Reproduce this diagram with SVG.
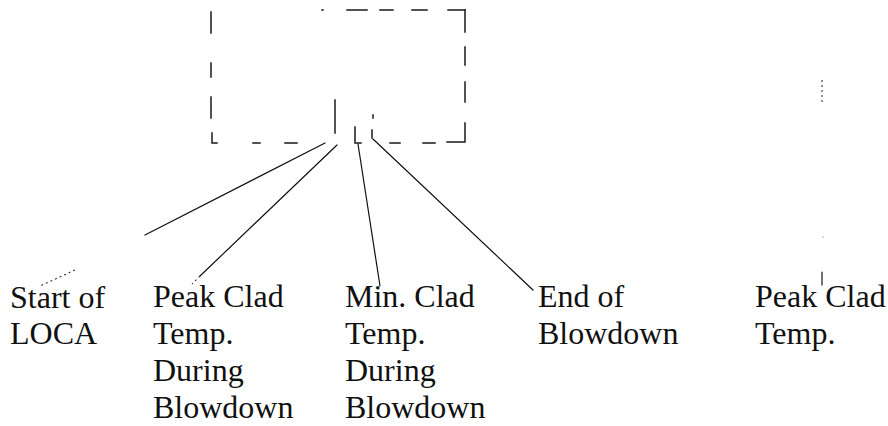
<svg xmlns="http://www.w3.org/2000/svg" width="888" height="426" viewBox="0 0 888 426">
  <style>
    .lbl { font-family: "Liberation Serif", "Times New Roman", serif; font-size: 32px; fill: #111; }
    .box { stroke: #1a1a1a; stroke-width: 1.5; fill: none; stroke-linecap: square; }
    .lead { stroke: #111; stroke-width: 1.2; fill: none; stroke-linecap: round; }
    .faint { stroke: #333; stroke-width: 1.1; fill: none; stroke-dasharray: 2 3; }
  </style>

  <rect width="888" height="426" fill="#ffffff"/>

  <!-- broken-line frame of the blowdown window -->
  <g id="frame">
    <!-- left side -->
    <path class="box" d="M211,12 V33 M211,63 V77 M211,97 V118 M212,133 V143 H217"/>
    <!-- bottom left dashes -->
    <path class="box" d="M253,143 H260 M285,143 H297"/>
    <!-- top edge -->
    <path class="box" d="M322,10 H323 M347,10 H367 M380,10 H393 M412,10 H427 M448,10 H465"/>
    <!-- right side -->
    <path class="box" d="M465,10 V32 M465,47 V65 M465,82 V102 M465,123 V142 H447"/>
    <!-- bottom right dashes -->
    <path class="box" d="M423,143 H435 M390,143 H400"/>
    <!-- inner markers -->
    <path class="box" d="M335,100 V133"/>
    <path class="box" d="M355,127 V143 H361"/>
    <path class="box" d="M373,115 V118 M372,130 V138"/>
  </g>

  <!-- leader lines from the frame to the labels -->
  <g id="connectors">
    <path class="lead" d="M325,143 L145,235"/>
    <path class="faint" d="M75,270 L40,286"/>
    <path class="lead" d="M337,145 L200,276"/>
    <path class="faint" d="M200,276 L192,284"/>
    <path class="lead" d="M358,144 L380,286" stroke-width="1.8"/>
    <path class="lead" d="M373,139 L533,290"/>
    <path class="lead" d="M822,272 V285"/>
    <path class="faint" d="M822,80 V103"/>
    <circle cx="823" cy="237" r="0.6" fill="#555"/>
  </g>

  <g id="start-of-loca">
    <text class="lbl" x="10" y="308">Start of</text>
    <text class="lbl" x="10" y="344">LOCA</text>
  </g>

  <g id="peak-clad-blowdown">
    <text class="lbl" x="153" y="307">Peak Clad</text>
    <text class="lbl" x="153" y="344">Temp.</text>
    <text class="lbl" x="153" y="381">During</text>
    <text class="lbl" x="153" y="418">Blowdown</text>
  </g>

  <g id="min-clad-blowdown">
    <text class="lbl" x="345" y="307">Min. Clad</text>
    <text class="lbl" x="345" y="344">Temp.</text>
    <text class="lbl" x="345" y="381">During</text>
    <text class="lbl" x="345" y="418">Blowdown</text>
  </g>

  <g id="end-of-blowdown">
    <text class="lbl" x="538" y="307">End of</text>
    <text class="lbl" x="538" y="344">Blowdown</text>
  </g>

  <g id="peak-clad">
    <text class="lbl" x="755" y="307">Peak Clad</text>
    <text class="lbl" x="755" y="344">Temp.</text>
  </g>
</svg>
